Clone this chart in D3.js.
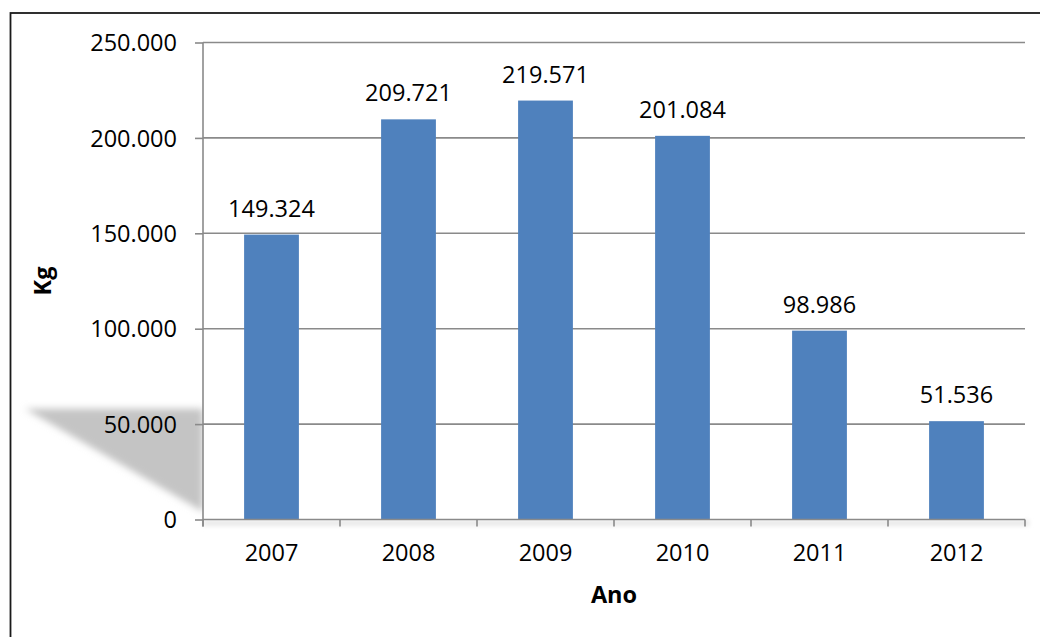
<!DOCTYPE html>
<html>
<head>
<meta charset="utf-8">
<script src="https://cdn.jsdelivr.net/npm/d3@7"></script>
<style>
html,body{margin:0;padding:0;background:#fff;}
svg{display:block;}
text{font-family:"Open Sans","Noto Sans",sans-serif;fill:#000;}
</style>
</head>
<body>
<script>
const categories = ["2007","2008","2009","2010","2011","2012"];
const values = [149324, 209721, 219571, 201084, 98986, 51536];
const yTicks = [0, 50000, 100000, 150000, 200000, 250000];
const xTitle = "Ano";
const yTitle = "Kg";

const W = 1040, H = 637;
const m = {left: 203, right: 1040-1025, top: 42.5, bottom: 637-519.5};
const FS = 23.5;

const svg = d3.select("body").append("svg").attr("width", W).attr("height", H);
const defs = svg.append("defs");
defs.append("filter").attr("id","blur").attr("x","-20%").attr("y","-20%").attr("width","140%").attr("height","140%")
  .append("feGaussianBlur").attr("stdDeviation", 3.5);
defs.append("filter").attr("id","blur2").attr("x","-5%").attr("y","-200%").attr("width","110%").attr("height","500%")
  .append("feGaussianBlur").attr("stdDeviation", 2.5);

const loc = d3.formatLocale({decimal:",", thousands:".", grouping:[3], currency:["",""]});
const fmt = loc.format(",d");

const x = d3.scaleBand().domain(categories).range([m.left, W - m.right]).paddingInner(0.6).paddingOuter(0.3);
const y = d3.scaleLinear().domain([0, 250000]).range([H - m.bottom, m.top]);

// outer chart-area border
svg.append("rect").attr("x", 10.5).attr("y", 13).attr("width", W + 20).attr("height", H + 20)
  .attr("fill", "#fff").attr("stroke", "#1a1a1a").attr("stroke-width", 1.8);

// decorative shadow artifact on the left
const x0 = m.left;
svg.append("path")
  .attr("d", `M${x0-178},${y(58000)} L${x0},${y(58000)} L${x0},${y(4000)} Z`)
  .attr("fill", "#c4c4c4").attr("filter", "url(#blur)");
// subtle shadow below x axis
svg.append("rect").attr("x", x0).attr("y", y(0)+1).attr("width", W - m.right - x0 + 4).attr("height", 5)
  .attr("fill", "#e4e4e4").attr("filter", "url(#blur2)");
// cover shadow inside plot
svg.append("rect").attr("x", x0).attr("y", m.top).attr("width", W - m.right - x0).attr("height", y(0) - m.top)
  .attr("fill", "#fff");

// gridlines
svg.append("g").selectAll("line").data(yTicks.filter(d => d > 0)).join("line")
  .attr("x1", x0).attr("x2", W - m.right)
  .attr("y1", d => y(d)).attr("y2", d => y(d))
  .attr("stroke", "#8a8a8a").attr("stroke-width", 1.6);

// bars
svg.append("g").selectAll("rect").data(values).join("rect")
  .attr("x", (d,i) => x(categories[i]))
  .attr("y", d => y(d))
  .attr("width", x.bandwidth())
  .attr("height", d => y(0) - y(d))
  .attr("fill", "#4f81bd");

// data labels
svg.append("g").selectAll("text").data(values).join("text")
  .attr("x", (d,i) => x(categories[i]) + x.bandwidth()/2)
  .attr("y", d => y(d) - 18)
  .attr("text-anchor", "middle")
  .attr("font-size", FS)
  .text(d => fmt(d));

// y axis
const yAxis = d3.axisLeft(y).tickValues(yTicks).tickFormat(fmt).tickSize(8).tickPadding(18);
const gy = svg.append("g").attr("transform", `translate(${x0},0)`).call(yAxis);
gy.select(".domain").attr("stroke", "#8a8a8a").attr("stroke-width", 1.6).attr("d", `M0,${m.top}V${y(0)+7}`);
gy.selectAll(".tick line").attr("stroke", "#8a8a8a").attr("stroke-width", 1.6);
gy.selectAll(".tick text").attr("font-size", FS).attr("font-family", "Open Sans").attr("fill", "#000").attr("dy", "0.35em");

// x axis
const xAxis = d3.axisBottom(x).tickSize(0).tickPadding(25);
const gx = svg.append("g").attr("transform", `translate(0,${y(0)})`).call(xAxis);
gx.select(".domain").attr("stroke", "#8a8a8a").attr("stroke-width", 1.6).attr("d", `M${x0},0H${W - m.right}`);
gx.selectAll(".tick text").attr("font-size", FS).attr("font-family", "Open Sans").attr("fill", "#000");
// category boundary ticks
const bounds = d3.range(categories.length + 1).map(i => x0 + i * x.step());
gx.append("g").selectAll("line").data(bounds).join("line")
  .attr("x1", d => d).attr("x2", d => d).attr("y1", 0).attr("y2", 7)
  .attr("stroke", "#8a8a8a").attr("stroke-width", 1.6);

// axis titles
svg.append("text").attr("x", (x0 + W - m.right)/2).attr("y", 603)
  .attr("text-anchor", "middle").attr("font-weight", "bold").attr("font-size", FS).text(xTitle);
svg.append("text").attr("transform", `translate(51,${(m.top + y(0))/2}) rotate(-90)`)
  .attr("text-anchor", "middle").attr("font-weight", "bold").attr("font-size", FS).text(yTitle);
</script>
</body>
</html>
